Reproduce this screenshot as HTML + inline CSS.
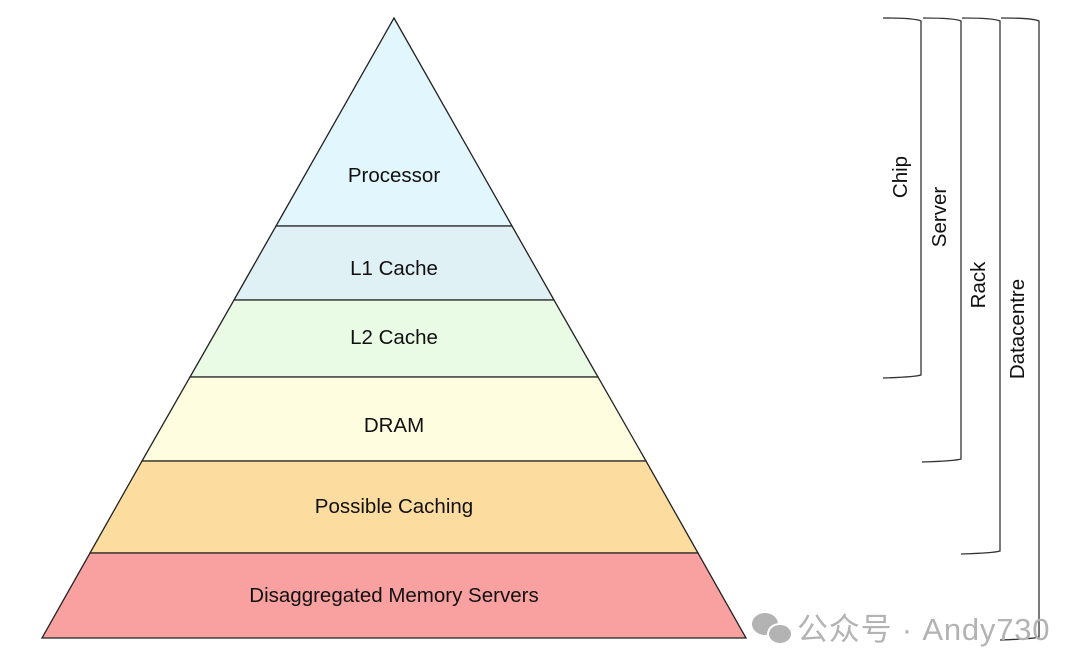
<!DOCTYPE html>
<html><head><meta charset="utf-8"><style>
html,body{margin:0;padding:0;background:#fff;width:1080px;height:671px;overflow:hidden}
svg{display:block}
text{font-family:"Liberation Sans",Arial,sans-serif;font-size:20.5px;fill:#111}
</style></head><body>
<svg width="1080" height="671" viewBox="0 0 1080 671">
<g stroke="#222" stroke-width="1.3" stroke-linejoin="miter">
<polygon points="394,18 512,226 276,226" fill="#e1f6fd"/>
<polygon points="276,226 512,226 554,300 234,300" fill="#e0f1f6"/>
<polygon points="234,300 554,300 598,377 190,377" fill="#eafbe5"/>
<polygon points="190,377 598,377 646,461 142,461" fill="#fefde0"/>
<polygon points="142,461 646,461 698,553 90,553" fill="#fddca0"/>
<polygon points="90,553 698,553 746,638 42,638" fill="#f9a1a0"/>
</g>
<g text-anchor="middle">
<text x="394" y="182">Processor</text>
<text x="394" y="275">L1 Cache</text>
<text x="394" y="344">L2 Cache</text>
<text x="394" y="432">DRAM</text>
<text x="394" y="513">Possible Caching</text>
<text x="394" y="602">Disaggregated Memory Servers</text>
</g>
<g fill="none" stroke="#333" stroke-width="1.3">
<path d="M883,18 Q915,18 921,21 L921,375 Q915,377 883,378"/>
<path d="M923,18 Q955,18 961,21 L961,459 Q955,461 922,462"/>
<path d="M962,18 Q994,18 1000,21 L1000,551 Q994,553 961,554"/>
<path d="M1001,18 Q1033,18 1039,21 L1039,637 Q1033,639 1000,640"/>
</g>
<g text-anchor="middle">
<text transform="translate(907,177) rotate(-90)">Chip</text>
<text transform="translate(946,217) rotate(-90)">Server</text>
<text transform="translate(985,285) rotate(-90)">Rack</text>
<text transform="translate(1024,329) rotate(-90)">Datacentre</text>
</g>
<g fill="#b3b3b3">
<ellipse cx="765" cy="624" rx="13" ry="11"/>
<ellipse cx="780" cy="634" rx="12" ry="10" stroke="#fff" stroke-width="2"/>
</g>
<text x="797" y="640" style="font-size:31px;letter-spacing:0.8px;fill:#b3b3b3;font-family:'Liberation Sans','Noto Sans CJK SC',sans-serif">公众号 · Andy730</text>
</svg>
</body></html>
